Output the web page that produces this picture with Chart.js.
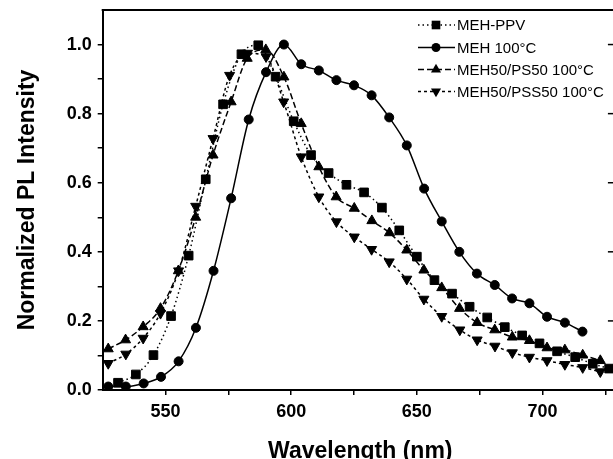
<!DOCTYPE html>
<html lang="en">
<head>
  <meta charset="UTF-8" />
  <title>Normalized PL Intensity</title>
  <script src="https://cdn.jsdelivr.net/npm/chart.js"></script>
  <style>
    html, body { margin: 0; padding: 0; background: #fff; overflow: hidden; }
    #plChart { display: block; }
  </style>
</head>
<body>

<canvas id="plChart" width="625" height="470"></canvas>

<script>
  // wavelength (nm) / normalized intensity
  const ppvX = [531.1, 538.2, 545.2, 552.2, 559.2, 566.0, 572.9, 580.2, 586.9, 593.8, 601.0, 607.9, 614.9, 622.0, 629.0, 636.1, 643.0, 650.0, 657.0, 664.0, 671.0, 678.0, 685.0, 691.9, 698.8, 705.8, 713.0, 720.0, 726.5];
  const ppvY = [0.021, 0.045, 0.101, 0.214, 0.389, 0.610, 0.827, 0.972, 0.998, 0.907, 0.778, 0.680, 0.628, 0.594, 0.572, 0.528, 0.462, 0.386, 0.318, 0.279, 0.241, 0.210, 0.182, 0.158, 0.135, 0.112, 0.095, 0.076, 0.062];

  const meh100X = [527.2, 534.2, 541.3, 548.2, 555.2, 562.1, 569.1, 576.1, 583.1, 590.0, 597.1, 604.0, 611.0, 618.0, 625.0, 632.0, 639.0, 646.0, 652.9, 659.9, 666.9, 673.9, 681.0, 687.9, 694.8, 701.8, 708.9, 715.9];
  const meh100Y = [0.010, 0.010, 0.019, 0.038, 0.083, 0.180, 0.345, 0.555, 0.783, 0.920, 1.000, 0.943, 0.925, 0.897, 0.882, 0.853, 0.789, 0.708, 0.583, 0.488, 0.400, 0.337, 0.304, 0.265, 0.251, 0.212, 0.195, 0.169];

  const ps50X = [527.2, 534.1, 541.1, 548.0, 555.1, 562.0, 568.9, 576.1, 582.5, 589.9, 597.1, 604.0, 611.0, 617.9, 625.1, 632.1, 639.1, 646.0, 652.8, 659.9, 667.0, 674.0, 681.0, 688.0, 694.8, 701.8, 708.9, 716.0, 723.0];
  const ps50Y = [0.119, 0.145, 0.183, 0.236, 0.345, 0.500, 0.680, 0.834, 0.960, 0.985, 0.906, 0.771, 0.646, 0.559, 0.526, 0.490, 0.455, 0.405, 0.347, 0.296, 0.236, 0.195, 0.174, 0.153, 0.143, 0.122, 0.116, 0.101, 0.085];

  const pss50X = [527.2, 534.2, 541.1, 548.0, 555.2, 562.0, 568.9, 575.5, 582.6, 590.0, 597.0, 604.0, 611.0, 618.0, 625.1, 632.0, 639.0, 646.0, 652.8, 659.9, 667.1, 674.0, 681.1, 688.0, 694.8, 701.8, 708.9, 716.0, 723.0];
  const pss50Y = [0.077, 0.104, 0.150, 0.222, 0.345, 0.532, 0.728, 0.911, 0.975, 0.965, 0.834, 0.675, 0.559, 0.487, 0.443, 0.407, 0.371, 0.321, 0.263, 0.213, 0.174, 0.145, 0.127, 0.108, 0.095, 0.085, 0.074, 0.065, 0.053];

  const seriesNames = ['MEH-PPV', 'MEH 100\u00B0C', 'MEH50/PS50 100\u00B0C', 'MEH50/PSS50 100\u00B0C'];
  const xTicks = [550, 575, 600, 625, 650, 675, 700, 725];
  const yTicks = [0, 0.1, 0.2, 0.3, 0.4, 0.5, 0.6, 0.7, 0.8, 0.9, 1.0];

  const FONT = "'Liberation Sans', Arial, sans-serif";
  const pts = (xs, ys) => xs.map((x, i) => ({ x: x, y: ys[i] }));

  function series(label, xs, ys, style, radius, rotation, dash) {
    return {
      label: label,
      data: pts(xs, ys),
      borderColor: '#000',
      backgroundColor: '#000',
      borderWidth: 1.5,
      borderDash: dash,
      pointStyle: style,
      pointRotation: rotation,
      pointRadius: radius,
      pointBorderWidth: 1,
      pointBackgroundColor: '#000',
      pointBorderColor: '#000',
      cubicInterpolationMode: 'monotone',
      fill: false
    };
  }

  // top border, right border with inward ticks, and the inset legend
  const framePlugin = {
    id: 'frame',
    afterDraw(chart) {
      const { ctx, chartArea: a, scales } = chart;
      ctx.save();
      ctx.strokeStyle = '#000';
      ctx.lineWidth = 2;
      ctx.beginPath();
      ctx.moveTo(a.left - 1, a.top);
      ctx.lineTo(a.right, a.top);
      ctx.lineTo(a.right, a.bottom);
      ctx.stroke();
      ctx.lineWidth = 1.5;
      [0.2, 0.4, 0.6, 0.8, 1.0].forEach(v => {
        const y = scales.y.getPixelForValue(v);
        ctx.beginPath();
        ctx.moveTo(a.right - 10, y);
        ctx.lineTo(a.right, y);
        ctx.stroke();
      });

      // legend
      const lx0 = 418, lx1 = 455, mx = 436, tx = 457;
      const rows = [25, 47.5, 69.5, 91.5];
      ctx.font = '15px ' + FONT;
      ctx.textBaseline = 'middle';
      ctx.textAlign = 'left';
      chart.data.datasets.forEach((ds, i) => {
        const y = rows[i];
        ctx.strokeStyle = '#000';
        ctx.lineWidth = 1.5;
        ctx.setLineDash(ds.borderDash || []);
        ctx.beginPath();
        ctx.moveTo(lx0, y);
        ctx.lineTo(lx1, y);
        ctx.stroke();
        ctx.setLineDash([]);
        ctx.fillStyle = '#000';
        ctx.beginPath();
        const r = ds.pointRadius;
        if (ds.pointStyle === 'rect') {
          const s = r * Math.SQRT1_2;
          ctx.rect(mx - s, y - s, 2 * s, 2 * s);
        } else if (ds.pointStyle === 'circle') {
          ctx.arc(mx, y, r, 0, Math.PI * 2);
        } else {
          const d = ds.pointRotation ? -1 : 1;
          ctx.moveTo(mx, y - d * r);
          ctx.lineTo(mx + r * 0.866, y + d * r * 0.5);
          ctx.lineTo(mx - r * 0.866, y + d * r * 0.5);
          ctx.closePath();
        }
        ctx.fill();
        ctx.fillText(ds.label, tx, y + 1);
      });
      ctx.restore();
    }
  };

  const ctx = document.getElementById('plChart').getContext('2d');

  new Chart(ctx, {
    type: 'line',
    data: {
      datasets: [
        series(seriesNames[0], ppvX, ppvY, 'rect', 6.1, 0, [1.5, 3]),
        series(seriesNames[1], meh100X, meh100Y, 'circle', 4.5, 0, []),
        series(seriesNames[2], ps50X, ps50Y, 'triangle', 5.8, 0, [6, 3]),
        series(seriesNames[3], pss50X, pss50Y, 'triangle', 5.8, 180, [3, 3])
      ]
    },
    options: {
      responsive: false,
      animation: false,
      devicePixelRatio: 1,
      layout: { padding: { left: 0, right: 5.5, top: 10, bottom: 0 } },
      plugins: {
        legend: { display: false },
        tooltip: { enabled: false }
      },
      scales: {
        x: {
          type: 'linear',
          min: 525,
          max: 730,
          afterBuildTicks: s => { s.ticks = xTicks.map(v => ({ value: v })); },
          afterFit: s => { s.height = 80; s.paddingLeft = 0; s.paddingRight = 0; },
          ticks: {
            autoSkip: false,
            maxRotation: 0,
            padding: 6,
            color: '#000',
            font: { family: FONT, size: 18, weight: 'bold' },
            callback: v => (v % 50 === 0 ? String(v) : '')
          },
          grid: { drawOnChartArea: false, drawTicks: true, tickLength: 5, color: '#000', lineWidth: 1.5 },
          border: { display: true, color: '#000', width: 2 },
          title: {
            display: true,
            text: 'Wavelength (nm)',
            color: '#000',
            font: { family: FONT, size: 23, weight: 'bold' },
            padding: { top: 0, bottom: 4.7 }
          }
        },
        y: {
          min: 0,
          max: 1.1,
          afterBuildTicks: s => { s.ticks = yTicks.map(v => ({ value: v })); },
          afterFit: s => { s.width = 102.7; s.paddingTop = 0; s.paddingBottom = 0; },
          ticks: {
            autoSkip: false,
            padding: 6,
            color: '#000',
            font: { family: FONT, size: 18, weight: 'bold' },
            callback: v => (Math.round(v * 10) % 2 === 0 ? v.toFixed(1) : '')
          },
          grid: { drawOnChartArea: false, drawTicks: true, tickLength: 5, color: '#000', lineWidth: 1.5 },
          border: { display: true, color: '#000', width: 2 },
          title: {
            display: true,
            text: 'Normalized PL Intensity',
            color: '#000',
            font: { family: FONT, size: 23, weight: 'bold' },
            padding: { top: 14, bottom: 0 }
          }
        }
      }
    },
    plugins: [framePlugin]
  });
</script>

</body>
</html>
